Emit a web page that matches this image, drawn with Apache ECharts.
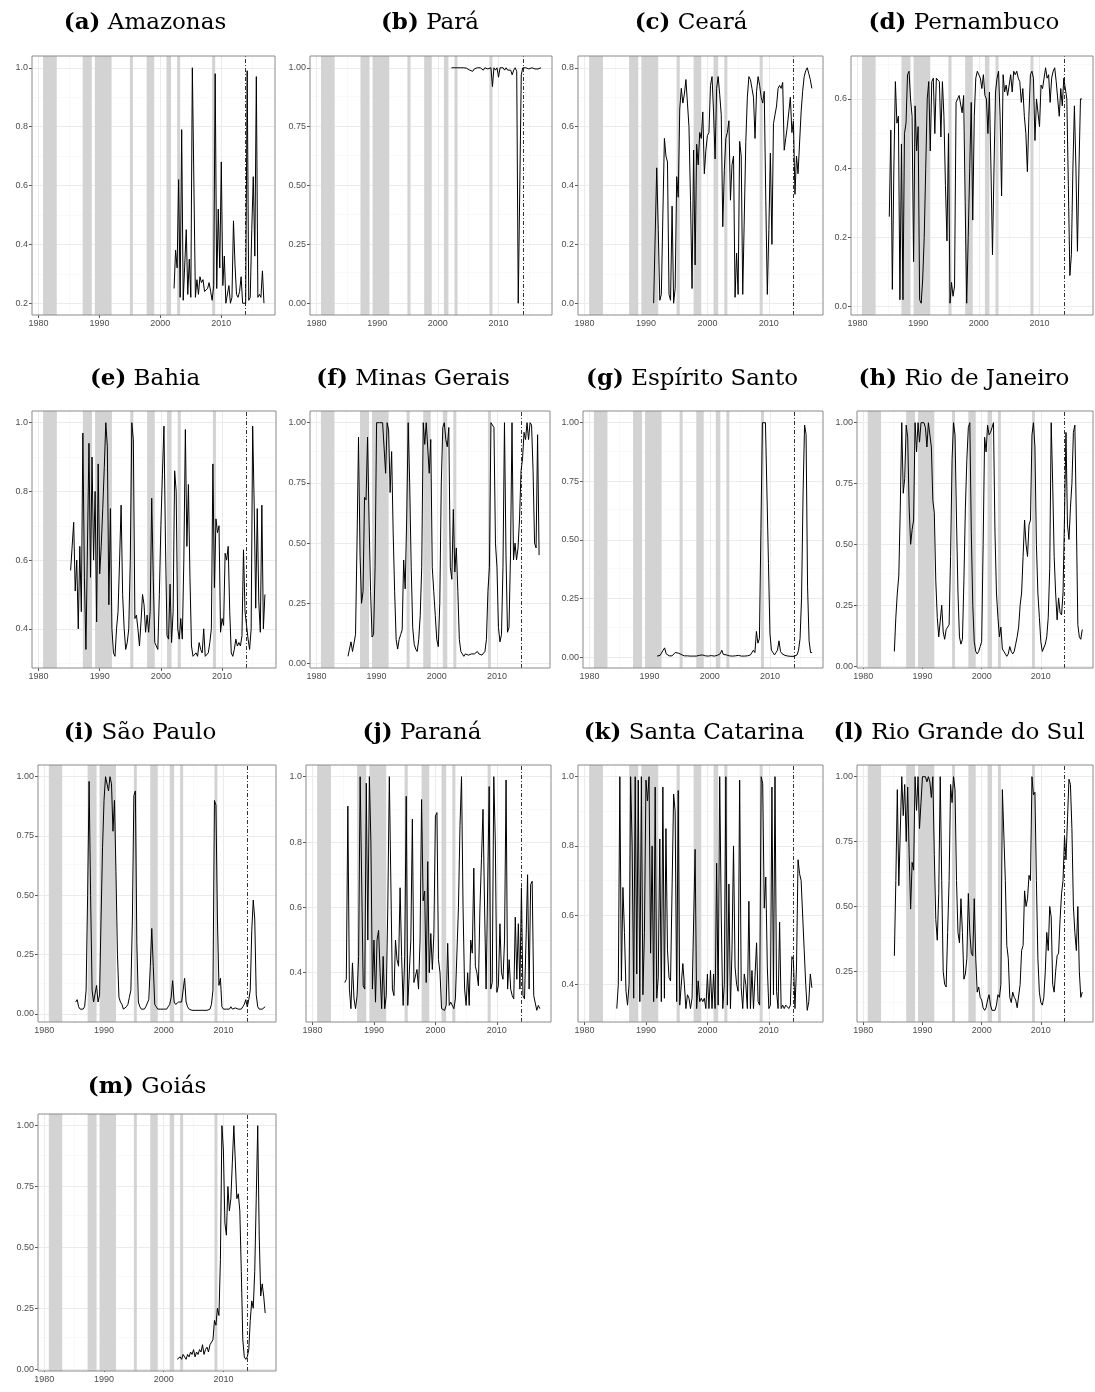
<!DOCTYPE html>
<html>
<head>
<meta charset="utf-8">
<script src="https://cdn.jsdelivr.net/npm/echarts@6/dist/echarts.min.js"></script>
<style>
html, body { margin: 0; padding: 0; background: #fff; }
#chart-container { width: 1095px; height: 1392px; }
</style>
</head>
<body>
<div id="chart-container"></div>
<script>
// recession periods (shaded) and the 2014 break line
const recessions = [[1980.75, 1983.0], [1987.25, 1988.75], [1989.25, 1992.0], [1995.0, 1995.5],
    [1997.75, 1999.0], [2001.0, 2001.75], [2002.75, 2003.25], [2008.5, 2009.0]];
const breakYear = 2014.0;
const xTicks = [1980, 1990, 2000, 2010];
const xMinor = [1985, 1995, 2005, 2015];

// quarterly probabilities, one array per state (first quarter given by start below)
const amazonas = [0.25,0.38,0.32,0.62, 0.22,0.79,0.21,0.21, 0.45,0.23,0.35,0.22, 1.00,1.00,0.22,0.28,
    0.23,0.29,0.27,0.28, 0.24,0.24,0.25,0.27, 0.24,0.21,0.26,0.98, 0.25,0.52,0.32,0.68,
    0.26,0.36,0.20,0.20, 0.26,0.20,0.22,0.48, 0.33,0.23,0.22,0.24, 0.29,0.20,0.20,0.20,
    0.99,0.21,0.22,0.45, 0.63,0.36,0.97,0.22, 0.23,0.22,0.31,0.20];
const para = [1.00,1.00,1.00,1.00, 1.00,0.998,1.00,0.997, 1.00,0.995,0.998,0.997, 0.99,0.997,0.985,0.995,
    1.00,1.00,0.995,1.00, 1.00,0.99,1.00,1.00, 0.995,0.99,1.00,0.92, 1.00,0.99,1.00,0.96,
    1.00,0.995,1.00,0.99, 1.00,0.99,0.985,0.99, 0.97,0.99,1.00,0.985, 0.00,0.00,0.97,1.00,
    0.995,1.00,1.00,0.995, 0.99,1.00,0.995,0.995, 1.00,0.995,1.00,1.00];
const ceara = [0.00,0.00,0.46,0.25,0.01,0.03,0.30,0.56,0.50,0.48, 0.03,0.01,0.33,0.00,0.05,0.43,0.36,0.66,0.73,0.68,
    0.71,0.76,0.68,0.60,0.35,0.05,0.52,0.13,0.54,0.47, 0.58,0.56,0.65,0.44,0.52,0.57,0.58,0.74,0.77,0.65,
    0.49,0.73,0.77,0.71,0.64,0.26,0.45,0.56,0.58,0.62, 0.35,0.47,0.50,0.02,0.17,0.03,0.55,0.50,0.03,0.03,
    0.55,0.70,0.77,0.76,0.73,0.70,0.56,0.72,0.77,0.74, 0.70,0.68,0.72,0.35,0.03,0.25,0.51,0.20,0.61,0.64,
    0.67,0.73,0.74,0.73,0.75,0.52,0.56,0.60,0.65,0.70, 0.58,0.62,0.37,0.50,0.44,0.44,0.65,0.72,0.77,0.79,
    0.80,0.78,0.76,0.73];
const pernambuco = [0.26,0.51,0.05,0.40, 0.65,0.53,0.55,0.02, 0.47,0.02,0.50,0.53, 0.67,0.68,0.60,0.55,
    0.13,0.58,0.45,0.52, 0.02,0.01,0.08,0.20, 0.40,0.60,0.65,0.45, 0.65,0.66,0.50,0.66,
    0.66,0.65,0.49,0.65, 0.55,0.35,0.19,0.50, 0.01,0.07,0.03,0.06, 0.59,0.60,0.61,0.61,
    0.56,0.61,0.30,0.01, 0.20,0.40,0.59,0.25, 0.55,0.66,0.68,0.68, 0.66,0.63,0.67,0.61,
    0.60,0.50,0.62,0.40, 0.15,0.40,0.62,0.66, 0.68,0.55,0.32,0.67, 0.62,0.64,0.61,0.64,
    0.67,0.62,0.68,0.67, 0.68,0.66,0.65,0.59, 0.63,0.55,0.50,0.39, 0.55,0.67,0.68,0.66,
    0.48,0.60,0.60,0.52, 0.64,0.63,0.66,0.69, 0.66,0.67,0.59,0.66, 0.68,0.69,0.65,0.65,
    0.55,0.63,0.58,0.66, 0.66,0.60,0.35,0.09, 0.15,0.40,0.58,0.40, 0.16,0.40,0.60,0.60];
const bahia = [0.57,0.57,0.71,0.51, 0.60,0.40,0.64,0.45, 0.97,0.55,0.34,0.34, 0.94,0.55,0.90,0.60,
    0.80,0.42,0.88,0.56, 0.64,0.75,0.87,1.00, 0.93,0.47,0.75,0.40, 0.33,0.32,0.40,0.45,
    0.60,0.76,0.50,0.40, 0.34,0.36,0.40,0.60, 1.00,0.95,0.43,0.44, 0.40,0.35,0.42,0.50,
    0.47,0.39,0.44,0.39, 0.45,0.78,0.55,0.36, 0.35,0.34,0.50,0.70, 0.85,0.99,0.65,0.38,
    0.37,0.53,0.36,0.45, 0.86,0.80,0.40,0.37, 0.43,0.37,0.60,0.98, 0.64,0.82,0.55,0.35,
    0.32,0.32,0.33,0.32, 0.36,0.34,0.33,0.40, 0.32,0.32,0.33,0.36, 0.40,0.88,0.52,0.72,
    0.68,0.70,0.39,0.43, 0.41,0.62,0.60,0.64, 0.45,0.33,0.32,0.34, 0.37,0.35,0.36,0.35,
    0.38,0.63,0.45,0.41, 0.37,0.34,0.40,0.99, 0.76,0.46,0.75,0.48, 0.39,0.76,0.40,0.50];
const minasGerais = [0.03,0.06,0.09,0.05, 0.05,0.12,0.50,0.94, 0.45,0.25,0.30,0.69, 0.68,0.94,0.60,0.30,
    0.11,0.12,0.40,1.00, 1.00,1.00,1.00,1.00, 1.00,0.79,1.00,0.97, 0.71,0.88,0.55,0.30,
    0.10,0.06,0.10,0.12, 0.14,0.43,0.31,0.60, 1.00,0.75,0.40,0.15, 0.08,0.06,0.05,0.10,
    0.20,0.40,1.00,0.91, 1.00,1.00,0.79,0.93, 0.40,0.30,0.20,0.10, 0.07,0.25,0.75,0.98,
    1.00,0.93,0.90,0.98, 0.40,0.35,0.64,0.38, 0.48,0.30,0.10,0.05, 0.04,0.03,0.04,0.035,
    0.035,0.035,0.04,0.035, 0.04,0.04,0.05,0.04, 0.04,0.035,0.04,0.05, 0.10,0.30,0.40,1.00,
    1.00,0.98,0.50,0.40, 0.15,0.09,0.12,0.40, 1.00,0.45,0.13,0.15, 0.45,1.00,0.43,0.50,
    0.43,0.48,0.60,0.80, 0.85,0.96,0.93,1.00, 0.93,1.00,0.99,0.80, 0.50,0.48,0.95,0.45];
const espiritoSanto = [0.005,0.006,0.008,
    0.012,0.03,0.04,0.015, 0.008,0.006,0.005,0.006,
    0.01,0.02,0.025,0.018, 0.022,0.012,0.008,0.006, 0.008,0.006,0.005,0.005, 0.005,0.005,0.006,0.005,
    0.006,0.008,0.014,0.010, 0.007,0.006,0.006,0.005, 0.006,0.007,0.006,0.005, 0.006,0.008,0.012,0.015,
    0.03,0.012,0.015,0.01, 0.008,0.006,0.005,0.005, 0.005,0.006,0.007,0.008, 0.006,0.005,0.005,0.005,
    0.005,0.006,0.008,0.010, 0.015,0.03,0.02,0.11, 0.06,0.08,0.55,1.00, 1.00,1.00,1.00,0.40,
    0.10,0.03,0.02,0.01, 0.02,0.03,0.07,0.025, 0.015,0.01,0.008,0.006, 0.005,0.005,0.004,0.004,
    0.004,0.005,0.01,0.03, 0.08,0.25,0.70,0.99, 0.95,0.30,0.07,0.02, 0.02];
const rioDeJaneiro = [0.06,0.20,0.30,0.37, 0.65,1.00,0.71,0.77, 0.99,0.94,0.65,0.50, 0.56,0.60,1.00,0.88,
    1.00,0.92,1.00,1.00, 1.00,0.98,0.90,1.00, 1.00,0.90,0.68,0.63, 0.35,0.20,0.12,0.12,
    0.25,0.14,0.11,0.15, 0.16,0.17,0.45,0.85, 1.00,0.95,0.60,0.30, 0.12,0.09,0.11,0.35,
    0.65,0.85,0.98,1.00, 0.55,0.25,0.10,0.06, 0.05,0.06,0.08,0.10, 0.50,0.94,0.88,0.99,
    0.95,0.96,0.98,1.00, 0.55,0.30,0.20,0.12, 0.16,0.07,0.06,0.05, 0.04,0.05,0.08,0.06,
    0.05,0.06,0.09,0.12, 0.16,0.25,0.30,0.45, 0.60,0.50,0.45,0.58, 0.60,0.95,1.00,0.90,
    0.50,0.30,0.20,0.10, 0.06,0.06,0.09,0.12, 0.20,0.40,1.00,0.75, 0.45,0.30,0.19,0.28,
    0.22,0.21,0.30,0.62, 0.96,0.58,0.52,0.65, 0.75,0.96,0.99,0.60, 0.17,0.12,0.11,0.15];
const saoPaulo = [0.05,0.06,0.03,0.02, 0.015,0.02,0.03,0.10, 0.50,0.98,0.50,0.10, 0.05,0.05,0.12,0.05,
    0.08,0.40,0.70,0.90, 1.00,1.00,0.94,1.00, 0.97,0.77,0.90,0.60, 0.25,0.07,0.05,0.04,
    0.02,0.02,0.03,0.04, 0.07,0.10,0.40,0.92, 0.94,0.30,0.05,0.03, 0.02,0.02,0.02,0.03,
    0.03,0.06,0.20,0.36, 0.20,0.04,0.03,0.02, 0.02,0.02,0.02,0.02, 0.02,0.02,0.03,0.04,
    0.07,0.14,0.05,0.04, 0.04,0.05,0.05,0.05, 0.05,0.15,0.05,0.03, 0.02,0.02,0.015,0.015,
    0.015,0.015,0.015,0.015, 0.015,0.015,0.015,0.015, 0.015,0.02,0.02,0.04, 0.10,0.90,0.88,0.40,
    0.12,0.15,0.03,0.02, 0.02,0.02,0.015,0.02, 0.03,0.02,0.02,0.025, 0.03,0.02,0.02,0.02,
    0.03,0.04,0.06,0.03, 0.06,0.10,0.35,0.48, 0.40,0.08,0.03,0.02, 0.02,0.02,0.025,0.03];
const parana = [0.37,0.38,0.91,0.35, 0.29,0.43,0.32,0.29, 0.33,0.45,1.00,1.00, 0.36,0.35,0.98,0.50,
    1.00,0.80,0.35,0.50, 0.31,0.50,0.53,0.40, 0.29,0.45,0.29,0.33, 0.60,1.00,1.00,0.35,
    0.33,0.50,0.44,0.42, 0.66,0.45,0.30,0.45, 0.94,0.30,0.30,0.50, 0.87,0.37,0.37,0.41,
    0.35,0.50,0.93,0.62, 0.65,0.37,0.74,0.40, 0.52,0.41,0.52,0.88, 0.89,0.44,0.40,0.29,
    0.29,0.285,0.30,0.49, 0.30,0.31,0.31,0.29, 0.32,0.32,0.60,0.85, 1.00,0.60,0.35,0.30,
    0.40,0.30,0.50,0.46, 0.72,0.42,0.40,0.36, 0.60,0.75,0.90,0.60, 0.35,0.35,0.97,0.35,
    0.37,1.00,0.80,0.34, 0.36,0.55,0.40,0.38, 0.50,0.99,0.35,0.44, 0.35,0.33,0.32,0.57,
    0.38,0.55,0.35,0.66, 0.33,0.32,0.50,0.70, 0.35,0.67,0.68,0.33, 0.33,0.285,0.30,0.29];
const santaCatarina = [0.33,0.40,1.00,0.41, 0.68,0.55,0.38,0.34, 0.40,1.00,0.80,0.36, 1.00,0.43,0.99,0.35,
    1.00,0.37,0.55,0.99, 0.93,1.00,0.49,0.80, 0.35,0.97,0.36,0.42, 0.82,0.35,0.97,0.36,
    0.85,0.50,0.42,0.41, 0.41,0.95,0.90,0.35, 0.96,0.34,0.34,0.46, 0.40,0.33,0.37,0.36,
    0.33,0.36,0.36,0.79, 0.33,0.41,0.35,0.36, 0.35,0.36,0.33,0.43, 0.33,0.44,0.33,0.43,
    0.33,0.75,0.34,1.00, 0.60,0.33,0.40,1.00, 0.34,0.69,0.33,0.50, 0.80,0.45,0.40,0.38,
    0.99,0.39,0.33,0.43, 0.40,0.33,0.64,0.33, 0.44,0.33,0.33,0.52, 0.35,0.34,1.00,0.98,
    0.62,0.71,0.45,0.33, 0.34,0.97,0.37,1.00, 0.38,0.33,0.58,0.33, 0.34,0.33,0.34,0.34,
    0.33,0.34,0.48,0.47, 0.33,0.45,0.76,0.72, 0.70,0.70,0.50,0.40, 0.325,0.35,0.43,0.39];
const rioGrandeDoSul = [0.31,0.60,0.95,0.58, 0.58,1.00,0.85,0.97, 0.75,0.96,0.70,0.49, 0.67,0.64,1.00,0.87,
    1.00,0.80,0.90,1.00, 1.00,1.00,0.98,1.00, 0.98,0.92,1.00,0.70, 0.45,0.37,0.55,1.00,
    0.60,0.25,0.20,0.19, 0.40,0.60,0.97,0.90, 1.00,0.95,0.60,0.40, 0.36,0.53,0.40,0.22,
    0.24,0.30,0.55,0.40, 0.32,0.31,0.53,0.30, 0.17,0.19,0.15,0.14, 0.11,0.10,0.11,0.14,
    0.16,0.12,0.10,0.10, 0.10,0.12,0.16,0.15, 0.20,0.95,0.95,0.60, 0.35,0.30,0.15,0.13,
    0.17,0.15,0.14,0.11, 0.11,0.20,0.33,0.35, 0.56,0.50,0.53,0.62, 0.60,1.00,0.93,0.94,
    0.60,0.30,0.17,0.13, 0.12,0.15,0.25,0.40, 0.33,0.50,0.46,0.20, 0.17,0.25,0.31,0.32,
    0.45,0.55,0.60,0.77, 0.68,0.68,0.99,0.97, 0.80,0.50,0.40,0.33, 0.50,0.25,0.15,0.17];
const goias = [0.04,0.04,0.05,0.04, 0.06,0.05,0.04,0.06, 0.05,0.07,0.06,0.08, 0.05,0.07,0.06,0.08,
    0.07,0.10,0.06,0.08, 0.09,0.07,0.10,0.10, 0.12,0.20,0.18,0.25, 0.22,0.45,1.00,0.90,
    0.60,0.55,0.75,0.65, 0.70,0.85,1.00,1.00, 0.70,0.72,0.65,0.40, 0.12,0.05,0.04,0.05,
    0.08,0.20,0.28,0.25, 0.40,0.70,1.00,0.55, 0.30,0.35,0.30,0.23];

const states = [
    { tag: "a", name: "Amazonas", start: 2002.25, values: amazonas, yTicks: [0.2, 0.4, 0.6, 0.8, 1.0], digits: 1 },
    { tag: "b", name: "Pará", start: 2002.25, values: para, yTicks: [0, 0.25, 0.5, 0.75, 1], digits: 2 },
    { tag: "c", name: "Ceará", start: 1991.25, values: ceara, yTicks: [0, 0.2, 0.4, 0.6, 0.8], digits: 1 },
    { tag: "d", name: "Pernambuco", start: 1985.25, values: pernambuco, yTicks: [0, 0.2, 0.4, 0.6], digits: 1 },
    { tag: "e", name: "Bahia", start: 1985.25, values: bahia, yTicks: [0.4, 0.6, 0.8, 1.0], digits: 1 },
    { tag: "f", name: "Minas Gerais", start: 1985.25, values: minasGerais, yTicks: [0, 0.25, 0.5, 0.75, 1], digits: 2 },
    { tag: "g", name: "Espírito Santo", start: 1991.25, values: espiritoSanto, yTicks: [0, 0.25, 0.5, 0.75, 1], digits: 2 },
    { tag: "h", name: "Rio de Janeiro", start: 1985.25, values: rioDeJaneiro, yTicks: [0, 0.25, 0.5, 0.75, 1], digits: 2 },
    { tag: "i", name: "São Paulo", start: 1985.25, values: saoPaulo, yTicks: [0, 0.25, 0.5, 0.75, 1], digits: 2 },
    { tag: "j", name: "Paraná", start: 1985.25, values: parana, yTicks: [0.4, 0.6, 0.8, 1.0], digits: 1 },
    { tag: "k", name: "Santa Catarina", start: 1985.25, values: santaCatarina, yTicks: [0.4, 0.6, 0.8, 1.0], digits: 1 },
    { tag: "l", name: "Rio Grande do Sul", start: 1985.25, values: rioGrandeDoSul, yTicks: [0.25, 0.5, 0.75, 1], digits: 2 },
    { tag: "m", name: "Goiás", start: 2002.25, values: goias, yTicks: [0, 0.25, 0.5, 0.75, 1], digits: 2 },
];

// layout: plot panel [left, top, right, bottom] and title centre
const boxes = [
    [32, 56, 275, 315], [310, 56, 552, 315], [578, 56, 823, 315], [851, 56, 1093, 315],
    [32, 411, 276, 668], [310, 411, 550, 668], [583, 411, 823, 668], [857, 411, 1093, 668],
    [38, 765, 276, 1022], [306, 765, 551, 1022], [578, 765, 823, 1022], [857, 765, 1093, 1022],
    [38, 1114, 276, 1371],
];
const titlePos = [
    [145, 23], [430, 23], [691, 23], [964, 23],
    [145, 379], [413, 379], [692, 379], [964, 379],
    [140, 733], [422, 733], [694, 733], [959, 733],
    [147, 1087],
];

// x range like ggplot: data span plus 5% each side
let lastYear = 0;
states.forEach(s => { lastYear = Math.max(lastYear, s.start + (s.values.length - 1) / 4); });
const firstYear = recessions[0][0];
const xPad = 0.05 * (lastYear - firstYear);
const xMin = firstYear - xPad;
const xMax = lastYear + xPad;

const labelFont = "Liberation Sans";
const majorGrid = { color: "#EBEBEB", width: 1, type: "solid" };
const minorGrid = { color: "#F5F5F5", width: 0.6, type: "solid" };

let grids = [], xAxes = [], yAxes = [], series = [], titles = [];

states.forEach((s, i) => {
    const b = boxes[i];
    const lo0 = Math.min(...s.values), hi0 = Math.max(...s.values);
    const pad = 0.05 * (hi0 - lo0);
    const lo = lo0 - pad, hi = hi0 + pad;
    const step = s.yTicks[1] - s.yTicks[0];
    const yMinor = s.yTicks.map(t => t - step / 2)
        .concat([s.yTicks[s.yTicks.length - 1] + step / 2])
        .filter(v => v > lo && v < hi);

    grids.push({
        left: b[0], top: b[1], width: b[2] - b[0], height: b[3] - b[1],
        show: true, borderColor: "#8a8a8a", borderWidth: 1, z: 3,
        outerBoundsMode: "none",
    });
    xAxes.push({
        type: "value", gridIndex: i, min: xMin, max: xMax,
        axisLine: { show: false },
        axisTick: { show: true, length: 3, customValues: xTicks, lineStyle: { color: "#555", width: 1 } },
        axisLabel: {
            customValues: xTicks, fontSize: 9, color: "#4D4D4D", margin: 4,
            fontFamily: labelFont, formatter: v => String(v),
        },
        splitLine: { show: false },
    });
    yAxes.push({
        type: "value", gridIndex: i, min: lo, max: hi,
        axisLine: { show: false },
        axisTick: { show: true, length: 3, customValues: s.yTicks, lineStyle: { color: "#555", width: 1 } },
        axisLabel: {
            customValues: s.yTicks, fontSize: 9, color: "#4D4D4D", margin: 4,
            fontFamily: labelFont, formatter: v => v.toFixed(s.digits),
        },
        splitLine: { show: false },
    });

    const lines = [].concat(
        xMinor.map(v => ({ xAxis: v, lineStyle: minorGrid })),
        yMinor.map(v => ({ yAxis: v, lineStyle: minorGrid })),
        xTicks.map(v => ({ xAxis: v, lineStyle: majorGrid })),
        s.yTicks.map(v => ({ yAxis: v, lineStyle: majorGrid })),
        [{ xAxis: breakYear, lineStyle: { color: "#333", width: 1, type: [4, 2, 1, 2] } }]
    );

    series.push({
        type: "line", xAxisIndex: i, yAxisIndex: i,
        data: s.values.map((v, k) => [s.start + k / 4, v]),
        showSymbol: false, symbol: "none", silent: true, animation: false, z: 2,
        lineStyle: { color: "#000", width: 1 },
        emphasis: { disabled: true },
        markArea: {
            silent: true, z: 1.5, animation: false,
            itemStyle: { color: "#D3D3D3" },
            label: { show: false },
            data: recessions.map(r => [{ xAxis: r[0] }, { xAxis: r[1] }]),
        },
        markLine: {
            silent: true, z: 1, animation: false,
            symbol: ["none", "none"],
            label: { show: false },
            emphasis: { disabled: true },
            data: lines,
        },
    });

    titles.push({
        text: "{b|(" + s.tag + ")}{n| " + s.name + "}",
        left: titlePos[i][0], top: titlePos[i][1],
        textAlign: "center", textVerticalAlign: "middle", padding: 0,
        textStyle: {
            fontWeight: "normal",
            rich: {
                b: { fontFamily: "DejaVu Serif", fontWeight: "bold", fontSize: 23, color: "#000" },
                n: { fontFamily: "DejaVu Serif", fontWeight: "normal", fontSize: 23, color: "#000" },
            },
        },
    });
});

let dom = document.getElementById("chart-container");
let myChart = echarts.init(dom, null, { renderer: "canvas" });
let option = {
    backgroundColor: "#fff",
    animation: false,
    title: titles,
    grid: grids,
    xAxis: xAxes,
    yAxis: yAxes,
    series: series,
};
myChart.setOption(option);
window.addEventListener("resize", myChart.resize);
</script>
</body>
</html>
